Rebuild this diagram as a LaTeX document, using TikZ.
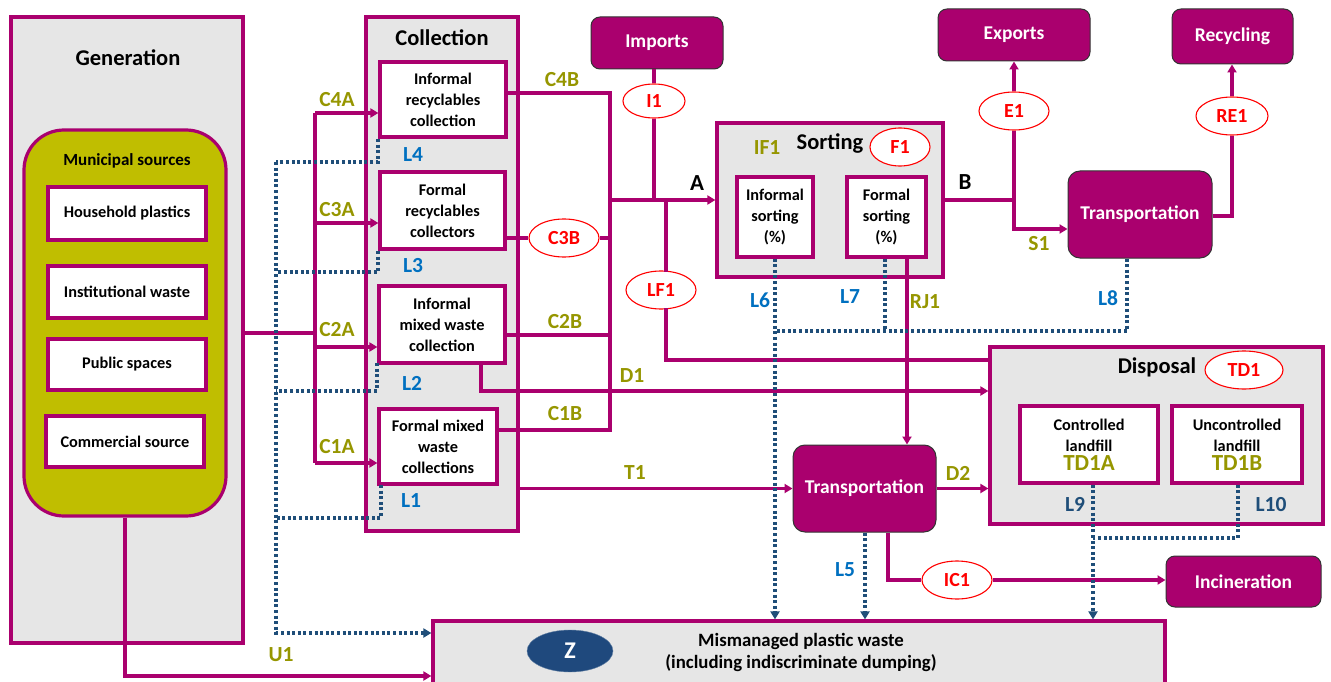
\documentclass[tikz,border=0pt]{standalone}
\usepackage{fontspec}
\setmainfont{Carlito}
\usetikzlibrary{shapes.geometric,arrows.meta}
\definecolor{mag}{RGB}{170,0,110}
\definecolor{olivet}{RGB}{150,150,0}
\definecolor{olivef}{RGB}{192,190,0}
\definecolor{lblue}{RGB}{0,112,192}
\definecolor{dblue}{RGB}{31,78,121}
\definecolor{zblue}{RGB}{31,73,125}
\definecolor{grayf}{RGB}{230,230,230}
\tikzset{
  panel/.style={draw=mag,line width=3.2pt,fill=grayf,inner sep=0pt},
  wbox/.style={draw=mag,line width=3.2pt,fill=white,align=center,inner sep=0pt,font=\fontsize{16.3}{21}\selectfont\bfseries},
  mbox/.style={draw=black!80,line width=1pt,fill=mag,rounded corners=9pt,text=white,inner sep=0pt,font=\fontsize{19.5}{21}\selectfont\bfseries},
  ell/.style={ellipse,draw=red,line width=1.1pt,fill=white,text=red,inner sep=0pt,minimum width=70pt,minimum height=38pt,font=\fontsize{20}{22}\selectfont\bfseries},
  ttl/.style={font=\fontsize{22.5}{24}\selectfont\bfseries},
  olab/.style={text=olivet,font=\fontsize{21.5}{22}\selectfont\bfseries},
  blab/.style={text=lblue,font=\fontsize{21.5}{22}\selectfont\bfseries},
  dlab/.style={text=dblue,font=\fontsize{21.5}{22}\selectfont\bfseries},
  klab/.style={text=black,font=\fontsize{23}{24}\selectfont\bfseries},
  flow/.style={draw=mag,line width=3.2pt},
  flowa/.style={flow,-{Triangle[length=8pt,width=9pt]}},
  lost/.style={draw=dblue,line width=3.2pt,dash pattern=on 3pt off 2.6pt},
  losta/.style={lost,-{Triangle[length=8pt,width=9pt]}},
}
\begin{document}
\begin{tikzpicture}[x=1pt,y=-1pt]
\clip (0,0) rectangle (1331,682);
\fill[white] (0,0) rectangle (1331,682);
% Generation
\node[panel,minimum width=232pt,minimum height=626pt] (gen) at (127,330) {};
\node[ttl] (gent) at (128,58) {Generation};
\node[draw=mag,line width=3.2pt,fill=olivef,rounded corners=40pt,minimum width=202pt,minimum height=386pt] (mun) at (125,323) {};
\node[font=\fontsize{17}{18}\selectfont\bfseries] (munt) at (127,161) {Municipal sources};
\node[wbox,minimum width=158pt,minimum height=53pt] (hh) at (127,213.5) {Household plastics};
\node[wbox,minimum width=158pt,minimum height=52pt] (inst) at (127,292) {Institutional waste};
\node[wbox,minimum width=158pt,minimum height=51pt] (pub) at (127,364.5) {Public spaces};
\node[wbox,minimum width=158pt,minimum height=51pt] (comm) at (125,441.5) {Commercial source};
% Collection
\node[panel,minimum width=152pt,minimum height=514pt] (col) at (442,274) {};
\node[ttl] (colt) at (442,38) {Collection};
\node[wbox,minimum width=126pt,minimum height=75pt] (c4) at (443,99.5) {Informal\\recyclables\\collection};
\node[wbox,minimum width=125pt,minimum height=77pt] (c3) at (442.5,210.5) {Formal\\recyclables\\collectors};
\node[wbox,minimum width=126pt,minimum height=77pt] (c2) at (442,324.5) {Informal\\mixed waste\\collection};
\node[wbox,minimum width=118pt,minimum height=75pt] (c1) at (438,446.5) {Formal mixed\\waste\\collections};
% Imports
\node[mbox,minimum width=132pt,minimum height=52pt] (imp) at (657,43) {Imports};
% Sorting
\node[panel,minimum width=226pt,minimum height=154pt] (sort) at (830,200) {};
\node[ttl] (sortt) at (830,143) {Sorting};
\node[wbox,minimum width=76pt,minimum height=80pt] (isort) at (775,217) {Informal\\sorting\\(\%)};
\node[wbox,minimum width=79pt,minimum height=80pt] (fsort) at (886.5,217) {Formal\\sorting\\(\%)};
% Exports, recycling, transportation
\node[mbox,minimum width=152pt,minimum height=52pt] (exp) at (1014,35) {Exports};
\node[mbox,minimum width=121pt,minimum height=55pt] (rec) at (1232.5,36.5) {Recycling};
\node[mbox,minimum width=144pt,minimum height=87pt,rounded corners=12pt] (tr1) at (1140,214.5) {Transportation};
\node[mbox,minimum width=143pt,minimum height=87pt,rounded corners=12pt] (tr2) at (864.5,488.5) {Transportation};
% Disposal
\node[panel,minimum width=333pt,minimum height=177pt] (disp) at (1156.5,435.5) {};
\node[ttl] (dispt) at (1157,367) {Disposal};
\node[wbox,minimum width=138pt,minimum height=77pt] (ctrl) at (1089,444.5) {Controlled\\landfill\\[-2pt]{\fontsize{23}{22}\selectfont\color{olivet}TD1A}};
\node[wbox,minimum width=130pt,minimum height=77pt] (unc) at (1237,444.5) {Uncontrolled\\landfill\\[-2pt]{\fontsize{23}{22}\selectfont\color{olivet}TD1B}};
\node[mbox,minimum width=155pt,minimum height=51pt] (inc) at (1243.5,581.5) {Incineration};
% Z
\node[panel,minimum width=732pt,minimum height=70pt] (zb) at (799,656) {};
\node[align=center,font=\fontsize{18.8}{22}\selectfont\bfseries] (zt) at (801,652) {Mismanaged plastic waste\\(including indiscriminate dumping)};
\node[ellipse,fill=zblue,draw=zblue!70!white,minimum width=86pt,minimum height=42pt,text=white,font=\fontsize{24}{24}\selectfont\bfseries] (z) at (570,651) {Z};

% ---- collection inputs
\coordinate (g1) at (243,333);
\coordinate (bT) at (315,113);
\coordinate (bM) at (315,333);
\coordinate (bB) at (315,463);
\draw[flow] (g1) -- (bM);
\draw[flow] (bT) -- (bB);
\draw[flowa] (bT) -- (c4.west |- bT);
\draw[flowa] (315,223) -- (c3.west |- 0,223);
\draw[flowa] (315,347) -- (c2.west |- 0,347);
\draw[flowa] (bB) -- (c1.west |- bB);
\node[olab] (c4a) at (337,100) {C4A};
\node[olab] (c3a) at (337,210) {C3A};
\node[olab] (c2a) at (337,330) {C2A};
\node[olab] (c1a) at (337,447) {C1A};

% ---- collection outputs
\coordinate (rT) at (610,93);
\coordinate (rB) at (610,430);
\coordinate (rA) at (610,200);
\node[ell] (c3b) at (564,238) {C3B};
\draw[flow] (c4.east |- rT) -- (rT) -- (rB) -- (c1.east |- rB);
\draw[flow] (c3.east |- c3b) -- (c3b) -- (c3b -| rT);
\draw[flow] (c2.east |- 0,335) -- (610,335);
\draw[flowa] (rA) -- (sort.west |- rA);
\node[olab] (c4bl) at (562,80) {C4B};
\node[olab] (c2bl) at (565,322) {C2B};
\node[olab] (c1bl) at (565,414) {C1B};
\node[klab] (al) at (697,183) {A};

% imports
\node[ell,minimum width=62pt,minimum height=34pt] (i1) at (654,101) {I1};
\draw[flow] (imp.south -| i1) -- (i1) -- (654,200);
% LF1
\node[ell] (lf1) at (661,290) {LF1};
\draw[flow] (666,200) -- (666,272);
\draw[flow] (666,308) -- (666,360) -- (disp.west |- 0,360);

% sorting labels
\node[olab] (if1) at (767,148) {IF1};
\node[ell,minimum width=60pt] (f1) at (900,147) {F1};

% to exports / transportation
\coordinate (jB) at (1014,200);
\node[ell] (e1) at (1014,111) {E1};
\draw[flow] (sort.east |- jB) -- (jB);
\draw[flow] (jB) -- (e1);
\draw[flowa] (e1) -- (exp.south -| e1);
\draw[flowa] (jB) -- (1014,229) -- (tr1.west |- 0,229);
\node[klab] (bl) at (965,182) {B};
\node[olab] (s1) at (1039,244) {S1};
\node[ell,minimum width=72pt] (re1) at (1232,116) {RE1};
\draw[flow] (tr1.east |- 0,216) -- (1232,216) -- (re1);
\draw[flowa] (re1) -- (rec.south -| re1);

% RJ1
\draw[flowa] (fsort.south -| 907,0) -- (tr2.north -| 907,0);
\node[olab] (rj1) at (925,302) {RJ1};

% D1
\draw[flowa] (c2.south -| 481,0) -- (481,391) -- (disp.west |- 0,391);
\node[olab] (d1) at (632,376) {D1};
% T1
\draw[flowa] (col.east |- tr2) -- (tr2.west);
\node[olab] (t1) at (635,473) {T1};
% D2
\draw[flowa] (tr2.east) -- (disp.west |- tr2);
\node[olab] (d2) at (958,473) {D2};
% IC1
\node[ell] (ic1) at (957,580) {IC1};
\draw[flow] (tr2.south -| 888,0) -- (888,580) -- (ic1);
\draw[flowa] (ic1) -- (inc.west |- ic1);
% U1
\draw[flowa] (mun.south) -- (125,676) -- (zb.west |- 0,676);
\node[olab] (u1) at (281,655) {U1};
\node[ell,minimum width=78pt] (td1) at (1244,370) {TD1};

% ---- losses
\draw[lost] (378,139) -- (378,162) -- (276,162);
\draw[lost] (378,251) -- (378,272) -- (276,272);
\draw[lost] (377,363) -- (377,391) -- (276,391);
\draw[lost] (381,485) -- (381,518) -- (276,518);
\draw[losta] (276,162) -- (276,633) -- (zb.west |- 0,633);
\node[blab] (l4) at (413,155) {L4};
\node[blab] (l3) at (413,266) {L3};
\node[blab] (l2) at (412,383) {L2};
\node[blab] (l1) at (411,501) {L1};
\draw[losta] (isort.south) -- (zb.north -| isort.south);
\draw[lost] (fsort.south -| 885,0) -- (885,331);
\draw[lost] (tr1.south -| 1127,0) -- (1127,331) -- (776,331);
\node[blab] (l6) at (760,300) {L6};
\node[blab] (l7) at (850,297) {L7};
\node[blab] (l8) at (1108,298) {L8};
\draw[losta] (tr2.south -| 865,0) -- (zb.north -| 865,0);
\node[blab] (l5) at (845,570) {L5};
\draw[losta] (ctrl.south -| 1093,0) -- (zb.north -| 1093,0);
\draw[lost] (unc.south -| 1238,0) -- (1238,538) -- (1093,538);
\node[dlab] (l9) at (1075,504) {L9};
\node[dlab] (l10) at (1271,505) {L10};
\end{tikzpicture}
\end{document}
